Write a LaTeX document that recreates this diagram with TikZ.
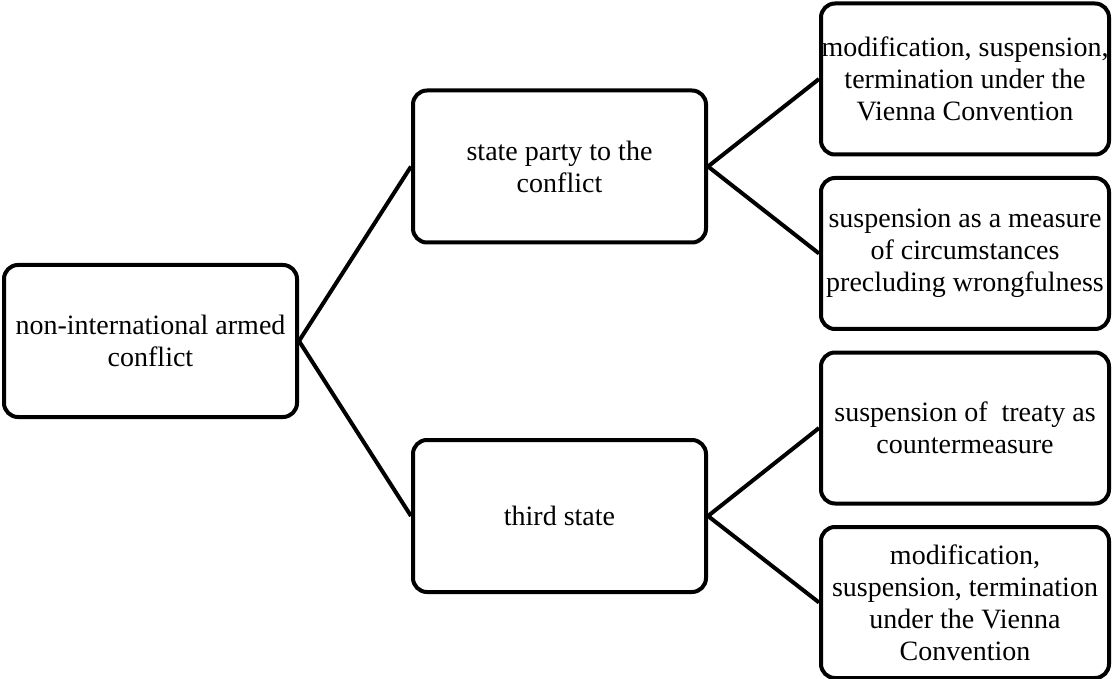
\documentclass[tikz,border=0pt]{standalone}
\usepackage{fontspec}
\setmainfont{Liberation Serif}
\begin{document}
\begin{tikzpicture}[x=1pt,y=-1pt,
  box/.style={draw=black,line width=4pt,rounded corners=14pt,align=center,
    inner sep=0pt,font=\fontsize{28}{32}\selectfont},
  midbox/.style={box,minimum width=293pt,minimum height=152pt},
  leafbox/.style={box,minimum width=288pt,minimum height=151pt},
  link/.style={line width=4pt}]
\useasboundingbox (0,0) rectangle (1112,679);

\node[midbox] (conflict) at (150.5,341) {non-international armed\\conflict};

\node[midbox] (party) at (559.5,166.5) {state party to the\\conflict};
\node[midbox] (third) at (559.5,516) {third state};

\node[leafbox] (vienna1) at (965,79) {modification, suspension,\\termination under the\\Vienna Convention};
\node[leafbox] (wrongful) at (965,253.5) {suspension as a measure\\of circumstances\\precluding wrongfulness};
\node[leafbox] (counter) at (965,428) {suspension of\ \ treaty as\\countermeasure};
\node[leafbox] (vienna2) at (965,602.5) {modification,\\suspension, termination\\under the Vienna\\Convention};

\draw[link] (conflict.east) -- (party.west);
\draw[link] (conflict.east) -- (third.west);
\draw[link] (party.east) -- (vienna1.west);
\draw[link] (party.east) -- (wrongful.west);
\draw[link] (third.east) -- (counter.west);
\draw[link] (third.east) -- (vienna2.west);

\end{tikzpicture}
\end{document}
